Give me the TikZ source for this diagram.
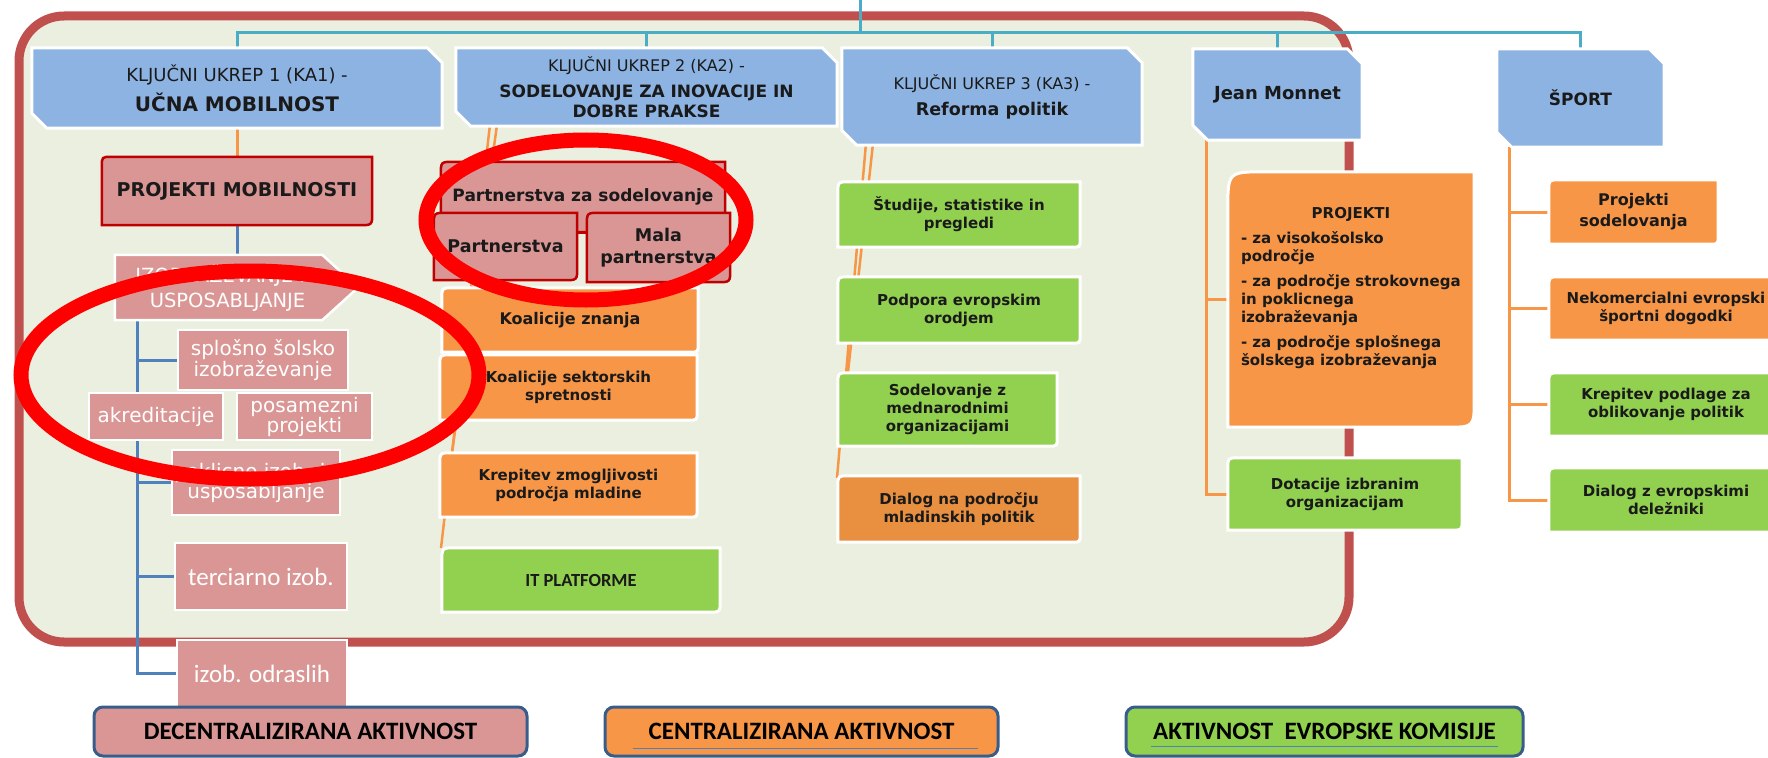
\documentclass[tikz,border=0pt]{standalone}
\usepackage{fontspec}
\setmainfont{DejaVu Sans}
\newfontfamily\carl{Carlito}
\definecolor{hblue}{RGB}{141,179,226}
\definecolor{lpink}{RGB}{217,150,148}
\definecolor{dred}{RGB}{192,0,0}
\definecolor{fred}{RGB}{192,80,77}
\definecolor{lorange}{RGB}{247,150,70}
\definecolor{dorange}{RGB}{232,143,64}
\definecolor{lgreen}{RGB}{146,208,80}
\definecolor{bgreen}{RGB}{235,239,223}
\definecolor{lteal}{RGB}{75,172,198}
\definecolor{lblue}{RGB}{79,129,189}
\definecolor{lgblue}{RGB}{56,93,138}
\definecolor{txt}{RGB}{26,26,26}

\pgfdeclarelayer{back}
\pgfdeclarelayer{shapes}
\pgfsetlayers{back,shapes,main}

% box with round top left and bottom right corners
\newcommand{\rdbox}[4]{%
  \begin{pgfonlayer}{shapes}
  \path[#2] (#1.south west) -- ([yshift=-#3]#1.north west)
    .. controls (#1.north west) .. ([xshift=#3]#1.north west)
    -- (#1.north east) -- ([yshift=#4]#1.south east)
    .. controls (#1.south east) .. ([xshift=-#4]#1.south east) -- cycle;
  \end{pgfonlayer}}
% box with cut top right and bottom left corners
\newcommand{\snipbox}[3]{%
  \begin{pgfonlayer}{shapes}
  \path[#2] (#1.north west) -- ([xshift=-#3]#1.north east) -- ([yshift=-#3]#1.north east)
    -- (#1.south east) -- ([xshift=#3]#1.south west) -- ([yshift=#3]#1.south west) -- cycle;
  \end{pgfonlayer}}

\begin{document}
\begin{tikzpicture}[x=1pt, y=-1pt,
  lbl/.style={inner sep=0pt, align=center, text=txt},
  btxt/.style={lbl, font=\fontsize{15}{18}\selectfont\bfseries},
  wtxt/.style={inner sep=0pt, align=center, text=white, font=\fontsize{20}{20}\selectfont},
  hfill/.style={fill=hblue, draw=white, line width=3pt},
  ofill/.style={fill=lorange, draw=white, line width=3pt},
  gfill/.style={fill=lgreen, draw=white, line width=3pt},
  pfill/.style={fill=lpink, draw=dred, line width=2.5pt},
  wpink/.style={fill=lpink, draw=white, line width=2.5pt},
  tline/.style={draw=lteal, line width=3pt},
  oline/.style={draw=lorange, line width=3pt},
  bline/.style={draw=lblue, line width=3pt},
  ring/.style={draw=red, line width=15pt},
  legend/.style={draw=lgblue, line width=3pt, rounded corners=9pt, inner sep=0pt, text=black,
    font=\carl\bfseries\fontsize{25}{28}\selectfont}]
\useasboundingbox (0,0) rectangle (1768,757);

% frame
\begin{pgfonlayer}{back}
\draw[draw=fred, fill=bgreen, line width=9pt, rounded corners=45pt] (19,16) rectangle (1349,642);
\end{pgfonlayer}

% headers
\node[lbl, minimum width=410pt, minimum height=80pt, font=\fontsize{20}{24}\selectfont\bfseries] (ka1) at (237,88)
  {{\mdseries\fontsize{18}{22}\selectfont KLJUČNI UKREP 1 (KA1) -}\\[6pt]UČNA MOBILNOST};
\snipbox{ka1}{hfill}{15pt}
\node[lbl, minimum width=381pt, minimum height=78pt, font=\fontsize{17}{20}\selectfont\bfseries] (ka2) at (646.5,87)
  {{\mdseries\fontsize{16}{20}\selectfont KLJUČNI UKREP 2 (KA2) -}\\[6pt]SODELOVANJE ZA INOVACIJE IN\\DOBRE PRAKSE};
\snipbox{ka2}{hfill}{15pt}
\node[lbl, minimum width=300pt, minimum height=97pt, font=\fontsize{17.5}{21}\selectfont\bfseries] (ka3) at (992,96.5)
  {{\mdseries\fontsize{16}{21}\selectfont KLJUČNI UKREP 3 (KA3) -}\\[5pt]Reforma politik};
\snipbox{ka3}{hfill}{15pt}
\node[lbl, minimum width=169pt, minimum height=91pt, font=\fontsize{18}{22}\selectfont\bfseries] (jm) at (1277.5,94.5) {Jean Monnet};
\snipbox{jm}{hfill}{15pt}
\node[lbl, minimum width=167pt, minimum height=98pt, font=\fontsize{17}{22}\selectfont\bfseries] (sp) at (1580.5,98) {ŠPORT};
\snipbox{sp}{hfill}{15pt}

% KA1
\node[lbl, minimum width=270pt, minimum height=68pt, font=\fontsize{19}{22}\selectfont\bfseries] (pm) at (237,191) {PROJEKTI MOBILNOSTI};
\rdbox{pm}{pfill}{10pt}{13pt}
\node[wtxt, minimum width=225pt, minimum height=65pt, font=\fontsize{19.5}{25}\selectfont] (izo) at (227.5,287.5) {IZOBRAŽEVANJE IN\\USPOSABLJANJE};
\begin{pgfonlayer}{shapes}
\path[wpink] (izo.north west) -- ([xshift=-18pt]izo.north east) -- ([xshift=18pt]izo.east)
  -- ([xshift=-18pt]izo.south east) -- (izo.south west) -- cycle;
\end{pgfonlayer}
\node[wpink, wtxt, minimum width=170pt, minimum height=60pt] (spl) at (263,360) {splošno šolsko\\izobraževanje};
\node[wpink, wtxt, minimum width=134pt, minimum height=47pt] (akr) at (156,416.5) {akreditacije};
\node[wpink, wtxt, minimum width=135pt, minimum height=47pt] (pos) at (304.5,416.5) {posamezni\\projekti};
\node[wpink, wtxt, minimum width=168pt, minimum height=65pt] (pok) at (256,482.5) {poklicno izob. in\\usposabljanje};
\node[wpink, wtxt, minimum width=172pt, minimum height=67pt, font=\carl\fontsize{25}{28}\selectfont] (ter) at (261,576.5) {terciarno izob.};
\node[wpink, wtxt, minimum width=170pt, minimum height=67pt, font=\carl\fontsize{25}{28}\selectfont] (odr) at (262,673.5) {izob. odraslih};

% KA2
\node[lbl, minimum width=284pt, minimum height=70pt, font=\fontsize{17}{20}\selectfont\bfseries] (psd) at (583,197) {Partnerstva za sodelovanje};
\rdbox{psd}{pfill}{13pt}{13pt}
\node[lbl, minimum width=143pt, minimum height=67pt, font=\fontsize{17.5}{22}\selectfont\bfseries] (pa) at (505.5,246.5) {Partnerstva};
\rdbox{pa}{pfill}{13pt}{13pt}
\node[lbl, minimum width=143pt, minimum height=69pt, font=\fontsize{17.5}{22}\selectfont\bfseries] (mp) at (658.5,247.5) {Mala\\partnerstva};
\rdbox{mp}{pfill}{13pt}{13pt}
\node[btxt, minimum width=256pt, minimum height=64pt, font=\fontsize{16}{18}\selectfont\bfseries] (kz) at (570,320) {Koalicije znanja};
\rdbox{kz}{ofill}{12pt}{9pt}
\node[btxt, minimum width=257pt, minimum height=65pt] (ks) at (568.5,387.5) {Koalicije sektorskih\\spretnosti};
\rdbox{ks}{ofill}{12pt}{9pt}
\node[btxt, minimum width=257pt, minimum height=64pt] (kzm) at (568.5,485) {Krepitev zmogljivosti\\področja mladine};
\rdbox{kzm}{ofill}{12pt}{9pt}
\node[lbl, minimum width=278pt, minimum height=64pt, font=\carl\bfseries\fontsize{18.5}{20}\selectfont] (it) at (581,580) {IT PLATFORME};
\rdbox{it}{gfill}{14pt}{12pt}

% KA3
\node[btxt, minimum width=242pt, minimum height=65pt] (st) at (959,214.5) {Študije, statistike in\\pregledi};
\rdbox{st}{gfill}{12pt}{9pt}
\node[btxt, minimum width=242pt, minimum height=66pt] (pe) at (959,310) {Podpora evropskim\\orodjem};
\rdbox{pe}{gfill}{12pt}{9pt}
\node[btxt, minimum width=219pt, minimum height=73pt] (sm) at (947.5,409.5) {Sodelovanje z\\mednarodnimi\\organizacijami};
\rdbox{sm}{gfill}{12pt}{9pt}
\node[btxt, minimum width=242pt, minimum height=66pt] (dm) at (959,509) {Dialog na področju\\mladinskih politik};
\rdbox{dm}{fill=dorange, draw=white, line width=3pt}{12pt}{9pt}

% Jean Monnet
\node[lbl, minimum width=246pt, minimum height=255pt] (proj) at (1351,299.5) {};
\rdbox{proj}{ofill}{38pt}{28pt}
\node[lbl, anchor=north west, align=left, font=\fontsize{15}{18}\selectfont\bfseries] (projt) at ([xshift=13pt,yshift=-35pt]proj.north west)
  {\makebox[220pt]{PROJEKTI}\\[7pt]- za visokošolsko\\področje\\[7pt]- za področje strokovnega\\in poklicnega\\izobraževanja\\[7pt]- za področje splošnega\\šolskega izobraževanja};
\node[btxt, minimum width=234pt, minimum height=72pt] (dot) at (1345,494) {Dotacije izbranim\\organizacijam};
\rdbox{dot}{gfill}{12pt}{12pt}

% ŠPORT
\node[lbl, minimum width=169pt, minimum height=64pt, font=\fontsize{16}{21}\selectfont\bfseries] (ps) at (1633.5,212) {Projekti\\sodelovanja};
\rdbox{ps}{ofill}{12pt}{9pt}
\node[btxt, minimum width=234pt, minimum height=63pt] (nek) at (1666,308.5) {Nekomercialni evropski\\športni dogodki};
\rdbox{nek}{ofill}{12pt}{9pt}
\node[btxt, minimum width=234pt, minimum height=63pt] (krp) at (1666,404.5) {Krepitev podlage za\\oblikovanje politik};
\rdbox{krp}{gfill}{12pt}{9pt}
\node[btxt, minimum width=234pt, minimum height=64pt] (dez) at (1666,500) {Dialog z evropskimi\\deležniki};
\rdbox{dez}{gfill}{12pt}{9pt}

% legend
\node[legend, fill=lpink, minimum width=433pt, minimum height=49pt] (dec) at (310.5,731.5) {DECENTRALIZIRANA AKTIVNOST};
\node[legend, fill=lorange, minimum width=393pt, minimum height=49pt] (cen) at (801.5,731.5) {CENTRALIZIRANA AKTIVNOST};
\node[legend, fill=lgreen, minimum width=397pt, minimum height=49pt] (ek) at (1324.5,731.5) {AKTIVNOST\ \ EVROPSKE KOMISIJE};
\draw[lblue, line width=1.5pt] ([xshift=29pt,yshift=9pt]cen.south west) -- ([xshift=-22pt,yshift=9pt]cen.south east);
\draw[lblue, line width=1.5pt] ([xshift=26pt,yshift=11pt]ek.south west) -- ([xshift=-27pt,yshift=11pt]ek.south east);

% connectors
\begin{pgfonlayer}{back}
\coordinate (top) at (860,0);
\coordinate (hub) at (860,33);
\draw[tline] (top) -- (hub);
\foreach \n in {ka1,ka2,ka3,jm,sp}
  \draw[tline] (hub) -| (\n.north);
\draw[oline] (ka1.south) -- (pm.north);
\draw[bline] (pm.south) -- (pm.south |- izo.north);
\coordinate (tr) at ([xshift=23pt]izo.south west);
\foreach \b in {spl,pok,ter,odr}
  \draw[bline] (tr) |- (\b.west);
\coordinate (k2a) at (441,548);
\coordinate (k2b) at (452,453);
\draw[oline, line width=2.5pt] ([xshift=34pt]ka2.south west) -- (k2a);
\draw[oline, line width=2.5pt] ([xshift=41pt]ka2.south west) -- (k2b);
\coordinate (k3a) at (837,478);
\coordinate (k3b) at (848,372);
\draw[oline, line width=2.5pt] ([xshift=24pt]ka3.south west) -- (k3a);
\draw[oline, line width=2.5pt] ([xshift=31pt]ka3.south west) -- (k3b);
\draw[draw=dred, line width=2.5pt] ([yshift=14pt]pa.east) -- ([yshift=14pt]pa.east -| mp.west);
\foreach \b in {proj,dot}
  \draw[oline] ([xshift=14pt]jm.south west) |- (\b.west);
\foreach \b in {ps,nek,krp,dez}
  \draw[oline] ([xshift=13pt]sp.south west) |- (\b.west);
\end{pgfonlayer}

% red rings
\draw[ring] (586,220) ellipse [x radius=160, y radius=80];
\draw[ring] (250,375) ellipse [x radius=229, y radius=104];
\end{tikzpicture}
\end{document}
